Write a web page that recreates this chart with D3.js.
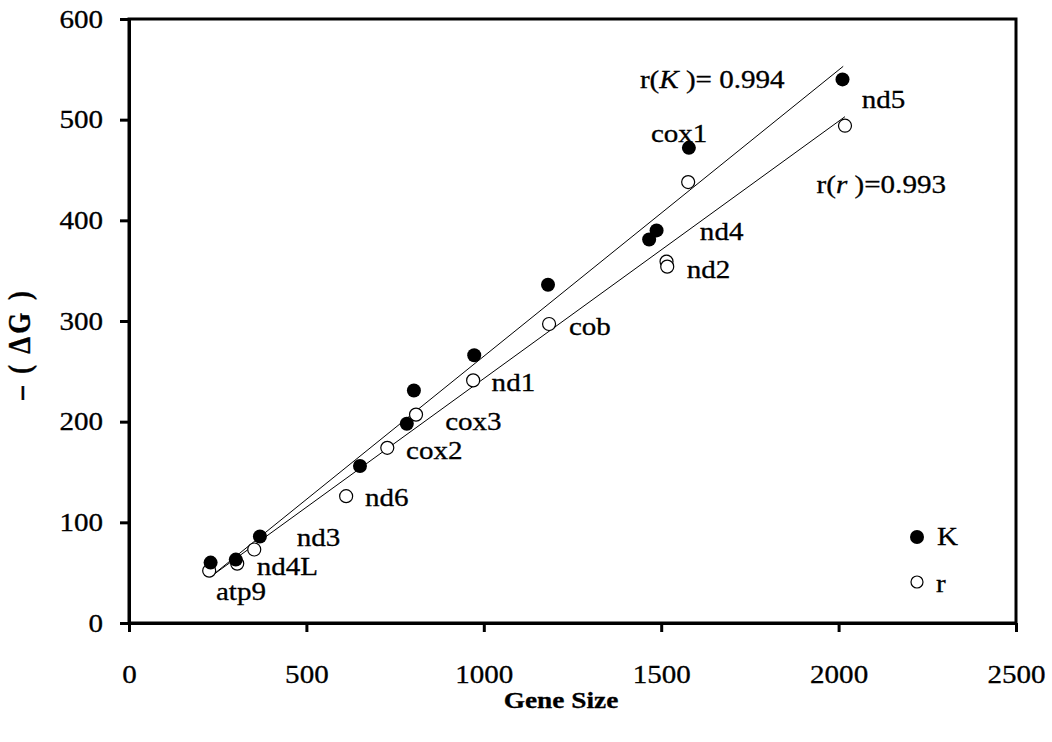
<!DOCTYPE html>
<html>
<head>
<meta charset="utf-8">
<script src="https://cdn.jsdelivr.net/npm/d3@7"></script>
<style>
  body { margin: 0; background: #fff; }
  svg { display: block; }
  text { font-family: "Liberation Serif", "Times New Roman", serif; fill: #000; stroke: #000; stroke-width: 0.3px; }
</style>
</head>
<body>
<div id="chart"></div>
<script>
// values
const kSize  = [230, 301, 369, 651, 783, 803, 973, 1181, 1466, 1487, 1578, 2011];
const kValue = [60, 63, 86, 156, 198, 231, 266, 336, 381, 390, 472, 540];
const rSize  = [226, 305, 353, 612, 728, 809, 970, 1184, 1515, 1517, 1576, 2018];
const rValue = [52, 59, 73, 126, 174, 207, 241, 297, 359, 354, 438, 494];

// fitted lines (end points)
const kFitSize = [230, 2013], kFitValue = [46, 553];
const rFitSize = [230, 2018], rFitValue = [46, 503];

// gene annotations, anchored in data units
const geneNames = ["atp9", "nd4L", "nd3", "nd6", "cox2", "cox3", "nd1", "cob", "nd2", "nd4", "cox1", "nd5"];
const geneX = [245, 360, 473, 665, 781, 891, 1022, 1240, 1572, 1609, 1471, 2065];
const geneY = [23, 48, 76, 116, 163, 192, 230, 286, 343, 380, 478, 512];

const xTicks = [0, 500, 1000, 1500, 2000, 2500];
const yTicks = [0, 100, 200, 300, 400, 500, 600];

const W = 1052, H = 742;
const SX = 1.14; // the original text is stretched sideways
const FS = 25.5;

const svg = d3.select("#chart").append("svg")
    .attr("width", W).attr("height", H);

const x = d3.scaleLinear().domain([0, 2500]).range([129, 1016]);
const y = d3.scaleLinear().domain([0, 600]).range([623, 19]);

function put(sel, px, py) {
  return sel.attr("transform", "translate(" + px + "," + py + ") scale(" + SX + ",1)");
}

// frame
svg.append("rect")
    .attr("x", x(0)).attr("y", y(600))
    .attr("width", x(2500) - x(0)).attr("height", y(0) - y(600))
    .attr("fill", "none").attr("stroke", "#000").attr("stroke-width", 3);

// axes
const xAxis = svg.append("g")
    .attr("transform", "translate(0," + y(0) + ")")
    .call(d3.axisBottom(x).tickValues(xTicks).tickSize(9).tickSizeOuter(0).tickPadding(33).tickFormat(d3.format("d")));
const yAxis = svg.append("g")
    .attr("transform", "translate(" + x(0) + ",0)")
    .call(d3.axisLeft(y).tickValues(yTicks).tickSize(9).tickSizeOuter(0).tickPadding(17).tickFormat(d3.format("d")));

[xAxis, yAxis].forEach(function(g) {
  g.select(".domain").attr("stroke-width", 3);
  g.selectAll(".tick line").attr("stroke-width", 3);
  g.selectAll("text")
    .attr("font-family", "Liberation Serif")
    .attr("font-size", FS);
});
xAxis.selectAll("text").attr("transform", "scale(" + SX + ",1)");
yAxis.selectAll("text")
    .attr("x", -26 / SX)
    .attr("transform", "scale(" + SX + ",1)");

// fit lines
const line = d3.line().x(d => x(d[0])).y(d => y(d[1]));
svg.append("path")
    .datum(d3.zip(kFitSize, kFitValue))
    .attr("d", line).attr("fill", "none").attr("stroke", "#000").attr("stroke-width", 1);
svg.append("path")
    .datum(d3.zip(rFitSize, rFitValue))
    .attr("d", line).attr("fill", "none").attr("stroke", "#000").attr("stroke-width", 1);

// points
svg.append("g").selectAll("circle")
  .data(d3.zip(rSize, rValue))
  .enter().append("circle")
    .attr("cx", d => x(d[0])).attr("cy", d => y(d[1]))
    .attr("r", 6.5)
    .attr("fill", "#fff").attr("stroke", "#000").attr("stroke-width", 1.2);
svg.append("g").selectAll("circle")
  .data(d3.zip(kSize, kValue))
  .enter().append("circle")
    .attr("cx", d => x(d[0])).attr("cy", d => y(d[1]))
    .attr("r", 7)
    .attr("fill", "#000");

// gene labels
svg.append("g").selectAll("text")
  .data(d3.zip(geneNames, geneX, geneY))
  .enter().append("text")
    .attr("font-size", FS)
    .attr("transform", d => "translate(" + x(d[1]) + "," + y(d[2]) + ") scale(" + SX + ",1)")
    .text(d => d[0]);

// correlation notes
const noteK = put(svg.append("text").attr("font-size", FS), x(1440), y(531));
noteK.append("tspan").text("r(");
noteK.append("tspan").attr("font-style", "italic").text("K");
noteK.append("tspan").text(" )= 0.994");

const noteR = put(svg.append("text").attr("font-size", FS), x(1938), y(427));
noteR.append("tspan").text("r(");
noteR.append("tspan").attr("font-style", "italic").text("r");
noteR.append("tspan").text(" )=0.993");

// legend
svg.append("circle").attr("cx", 917).attr("cy", 537).attr("r", 7).attr("fill", "#000");
put(svg.append("text").attr("font-size", FS).text("K"), 937, 545);
svg.append("circle").attr("cx", 917).attr("cy", 582).attr("r", 6)
    .attr("fill", "#fff").attr("stroke", "#000").attr("stroke-width", 1.2);
put(svg.append("text").attr("font-size", FS).text("r"), 936, 592);

// axis titles
put(svg.append("text")
    .attr("font-size", 24).attr("font-weight", "bold")
    .attr("text-anchor", "middle")
    .text("Gene Size"), 561, 708);

svg.append("text")
    .attr("font-family", "Liberation Sans")
    .attr("font-size", 27).attr("font-weight", "bold")
    .attr("text-anchor", "middle")
    .attr("letter-spacing", 3)
    .attr("transform", "translate(30,331) scale(" + SX + ",1) rotate(-90)")
    .text("( ΔG )");
svg.append("text")
    .attr("font-family", "Liberation Sans")
    .attr("font-size", 27).attr("font-weight", "bold")
    .attr("text-anchor", "middle")
    .attr("transform", "translate(30,393) scale(" + SX + ",1) rotate(-90)")
    .text("–");
</script>
</body>
</html>
